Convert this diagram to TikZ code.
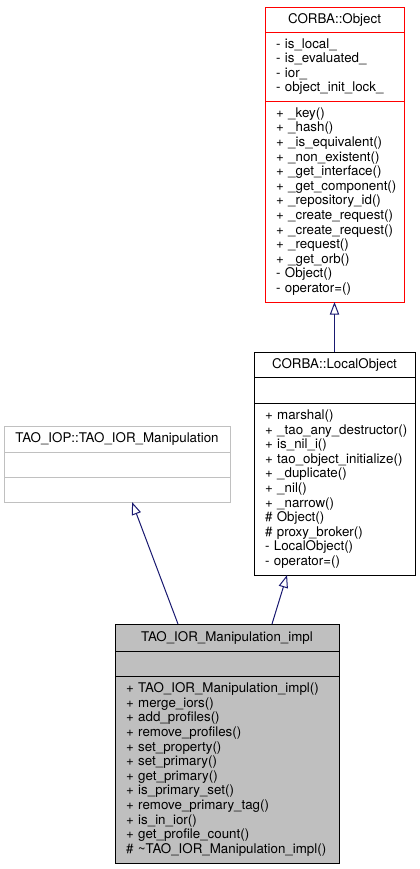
\documentclass[tikz,border=0pt]{standalone}
\usepackage{fontspec}
\setmainfont{TeX Gyre Heros}
\usepackage{xcolor}
\usetikzlibrary{positioning,arrows.meta}
\definecolor{edgeblue}{HTML}{191970}
\definecolor{boxgrey}{HTML}{BFBFBF}
\definecolor{extgrey}{HTML}{C0C0C0}
\protected\def\classfont{\fontsize{10}{10.95}\selectfont\hyphenpenalty 10000\relax\exhyphenpenalty 10000\relax}
\tikzstyle{class:part}=[draw,anchor=north,line width=0.75pt,outer sep=0pt,inner xsep=8.25pt,inner ysep=0pt,font=\classfont]
\tikzstyle{class:head}=[class:part,align=center]
\tikzstyle{class:body}=[class:part,align=left]
\tikzstyle{class:object}=[text width=87.75pt,red]
\tikzstyle{class:local}=[text width=104.25pt,black]
\tikzstyle{class:extern}=[text width=153pt,extgrey]
\tikzstyle{class:impl}=[text width=151.5pt,black,fill=boxgrey]
\tikzstyle{draw:inherit}=[-{Triangle[open,length=9.5pt,width=7pt]},edgeblue,line width=0.75pt]

\begin{document}
\begin{tikzpicture}[x=0.75pt,y=-0.75pt]
        \useasboundingbox (0,0) rectangle (420,869);

        % CORBA::Object
        \node[class:head,class:object,minimum height=18.75pt] (obj-h) at (334.5,7) {\textcolor{black}{CORBA::Object}};
        \node[class:body,class:object,minimum height=51.75pt,below=0pt of obj-h] (obj-a) {\color{black}-~is\_local\_\\-~is\_evaluated\_\\-~ior\_\\-~object\_init\_lock\_};
        \node[class:body,class:object,minimum height=150.75pt,below=0pt of obj-a] (obj-m) {\color{black}+~\_key()\\+~\_hash()\\+~\_is\_equivalent()\\+~\_non\_existent()\\+~\_get\_interface()\\+~\_get\_component()\\+~\_repository\_id()\\+~\_create\_request()\\+~\_create\_request()\\+~\_request()\\+~\_get\_orb()\\-~Object()\\-~operator=()};

        % CORBA::LocalObject
        \node[class:head,class:local,minimum height=18.75pt] (loc-h) at (334.5,352) {CORBA::LocalObject};
        \node[class:body,class:local,minimum height=19.5pt,below=0pt of loc-h] (loc-a) {};
        \node[class:body,class:local,minimum height=129pt,below=0pt of loc-a] (loc-m) {+~marshal()\\+~\_tao\_any\_destructor()\\+~is\_nil\_i()\\+~tao\_object\_initialize()\\+~\_duplicate()\\+~\_nil()\\+~\_narrow()\\\#~Object()\\\#~proxy\_broker()\\-~LocalObject()\\-~operator=()};

        % TAO_IOP::TAO_IOR_Manipulation
        \node[class:head,class:extern,minimum height=19.5pt] (ext-h) at (117,426) {\textcolor{black}{TAO\_IOP::TAO\_IOR\_Manipulation}};
        \node[class:body,class:extern,minimum height=18.75pt,below=0pt of ext-h] (ext-a) {};
        \node[class:body,class:extern,minimum height=18.75pt,below=0pt of ext-a] (ext-m) {};

        % TAO_IOR_Manipulation_impl
        \node[class:head,class:impl,minimum height=20.25pt] (impl-h) at (227,624) {TAO\_IOR\_Manipulation\_impl};
        \node[class:body,class:impl,minimum height=18.75pt,below=0pt of impl-h] (impl-a) {};
        \node[class:body,class:impl,minimum height=140.25pt,below=0pt of impl-a] (impl-m) {+~TAO\_IOR\_Manipulation\_impl()\\+~merge\_iors()\\+~add\_profiles()\\+~remove\_profiles()\\+~set\_property()\\+~set\_primary()\\+~get\_primary()\\+~is\_primary\_set()\\+~remove\_primary\_tag()\\+~is\_in\_ior()\\+~get\_profile\_count()\\\#~\textasciitilde TAO\_IOR\_Manipulation\_impl()};

        % inheritance
        \draw[draw:inherit] (loc-h.north) -- (obj-m.south);
        \draw[draw:inherit] ([xshift=-36.75pt]impl-h.north) -- ([xshift=11.25pt]ext-m.south);
        \draw[draw:inherit] ([xshift=33.75pt]impl-h.north) -- ([xshift=-35.6pt]loc-m.south);
    \end{tikzpicture}
\end{document}
